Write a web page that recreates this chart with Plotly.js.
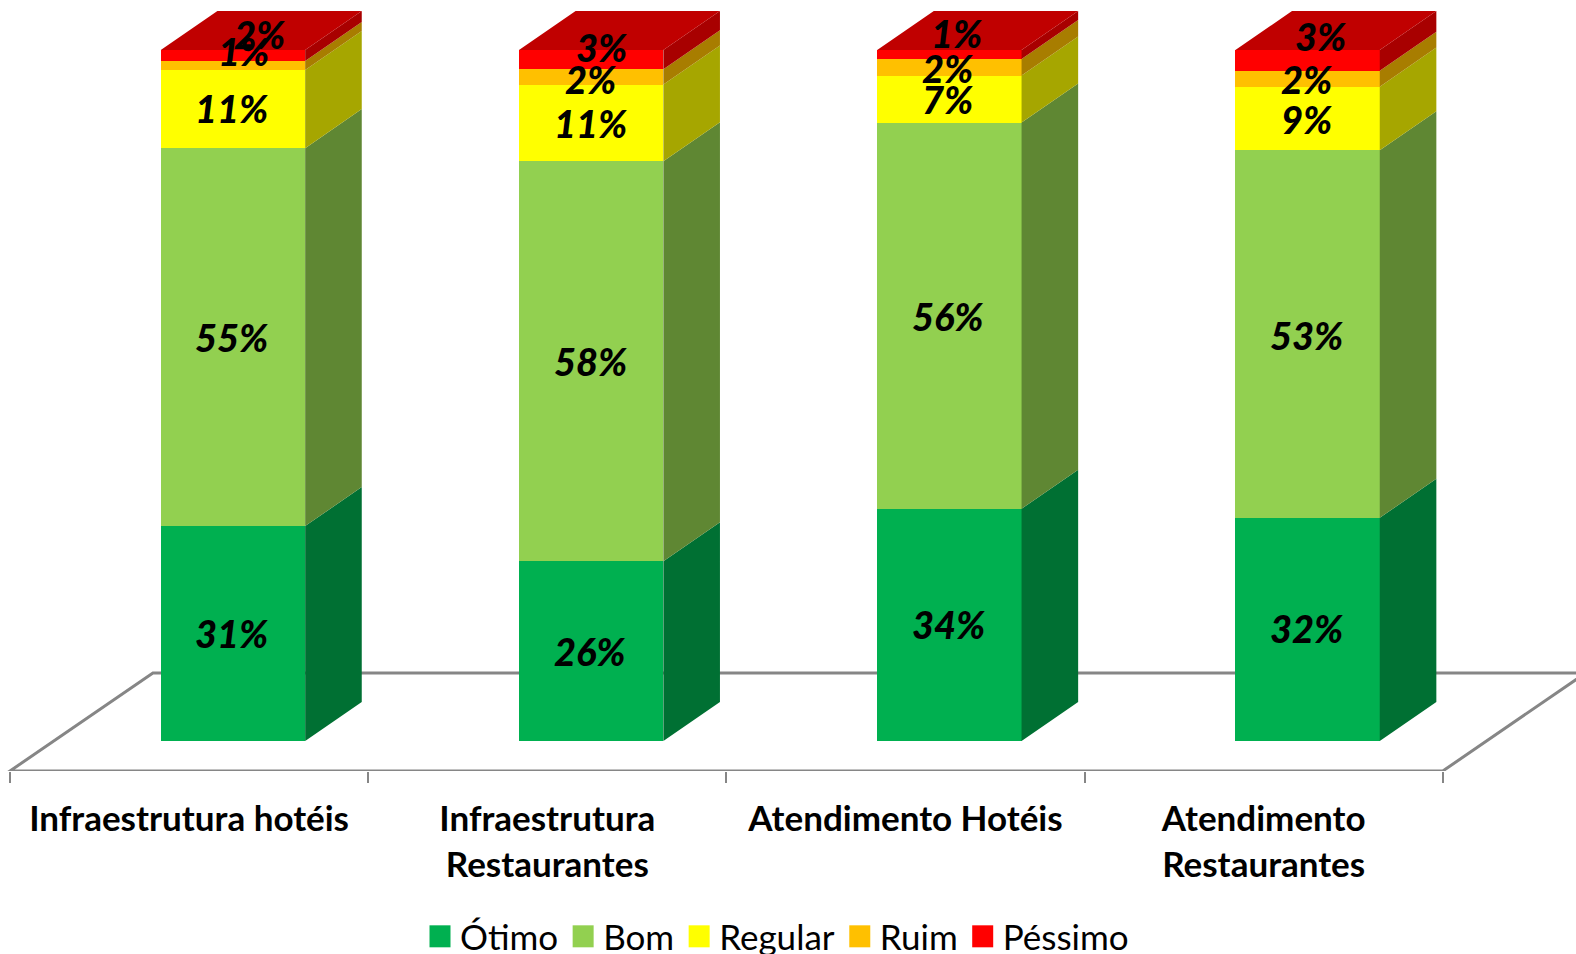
<!DOCTYPE html>
<html><head><meta charset="utf-8">
<script src="https://cdn.plot.ly/plotly-3.0.1.min.js"></script>
<style>html,body{margin:0;padding:0;background:#fff;overflow:hidden}#chart{width:1576px;height:954px}</style>
</head><body><div id="chart"></div>
<script>
const categories = ["Infraestrutura hotéis", "Infraestrutura<br>Restaurantes", "Atendimento Hotéis", "Atendimento<br>Restaurantes"];
const seriesNames = ["Ótimo", "Bom", "Regular", "Ruim", "Péssimo"];
const otimo   = [31.1, 26.0, 33.6, 32.3];
const bom     = [54.7, 57.9, 55.9, 53.2];
const regular = [11.3, 11.1, 6.8, 9.2];
const ruim    = [1.3, 2.2, 2.4, 2.3];
const pessimo = [1.6, 2.8, 1.3, 3.0];
const otimoLabels   = ["31%", "26%", "34%", "32%"];
const bomLabels     = ["55%", "58%", "56%", "53%"];
const regularLabels = ["11%", "11%", "7%", "9%"];
const ruimLabels    = ["1%", "2%", "2%", "2%"];
const pessimoLabels = ["2%", "3%", "1%", "3%"];

const values = [otimo, bom, regular, ruim, pessimo];
const labels = [otimoLabels, bomLabels, regularLabels, ruimLabels, pessimoLabels];
const frontColors = ["#00B050", "#92D050", "#FFFF00", "#FFC000", "#FF0000"];
const sideColors  = ["#007033", "#5F8733", "#A6A600", "#A87D00", "#A80000"];
const topColor = "#C00000";
const axisColor = "#868686";

// geometry of the pseudo-3D extrusion, in axis units
const barCentre = 0.1225, barWidth = 0.403, depthX = 0.158, depthY = 5.65;
const floorX = 0.399, floorY = 14.19, floorBottom = -4.343;
// nudges of the data labels, px, per series then per bar
const shiftX = [[-1,-1,-1,-1],[-1,-1,-1,-1],[-1,-1,-2,-1],[11,-1,-2,-1],[27,10,7,13]];
const shiftY = [[1,0,0.5,1],[0.5,0,0,-0.7],[1,0,0,-0.4],[14.5,-1.6,-0.6,0],[21.5,13,22,24]];

const xs = categories.map((c, i) => i);
const traces = [];
const annotations = [];
const cum = xs.map(() => 0);

values.forEach((vals, s) => {
  traces.push({
    type: "bar", name: seriesNames[s], x: xs, y: vals,
    width: barWidth, offset: barCentre - barWidth / 2,
    marker: {color: frontColors[s], line: {width: 0}},
    hoverinfo: "skip"
  });
  const sx = [], sy = [];
  vals.forEach((v, i) => {
    const right = i + barCentre + barWidth / 2, y0 = cum[i], y1 = cum[i] + v;
    sx.push(right, right + depthX, right + depthX, right, null);
    sy.push(y0, y0 + depthY, y1 + depthY, y1, null);
    annotations.push({
      x: i + barCentre, y: (y0 + y1) / 2, xref: "x", yref: "y",
      text: labels[s][i], showarrow: false,
      xshift: shiftX[s][i], yshift: shiftY[s][i],
      font: {family: "Lato", size: 38, color: "#000", weight: 900, style: "italic"}
    });
    cum[i] = y1;
  });
  traces.push({
    type: "scatter", mode: "none", x: sx, y: sy, fill: "toself",
    fillcolor: sideColors[s], showlegend: false, hoverinfo: "skip"
  });
});

const tx = [], ty = [];
xs.forEach(i => {
  const l = i + barCentre - barWidth / 2, r = l + barWidth;
  tx.push(l, l + depthX, r + depthX, r, null);
  ty.push(cum[i], cum[i] + depthY, cum[i] + depthY, cum[i], null);
});
traces.push({type: "scatter", mode: "none", x: tx, y: ty, fill: "toself",
  fillcolor: topColor, showlegend: false, hoverinfo: "skip"});

const xL = -0.5, xR = 3.5;
const floorPath = `M${xL},${floorBottom}L${xL + floorX},${floorBottom + floorY}L${xR + floorX},${floorBottom + floorY}L${xR},${floorBottom}Z`;

const layout = {
  width: 1576, height: 954,
  margin: {l: 0, r: 0, t: 0, b: 183.3},
  paper_bgcolor: "#fff", plot_bgcolor: "#fff",
  barmode: "stack",
  showlegend: true,
  legend: {
    orientation: "h", xref: "container", yref: "container",
    x: 0.2665, xanchor: "left", y: 0.0492, yanchor: "top",
    font: {family: "Lato", size: 35, color: "#000"}, traceorder: "normal",
    itemclick: false, itemdoubleclick: false
  },
  xaxis: {
    range: [-0.52792, 3.87186], showgrid: false, zeroline: false, showline: false,
    tickmode: "array", tickvals: xs, ticktext: categories, ticks: "",
    tickfont: {family: "Lato", size: 35, color: "#000", weight: 700},
    ticklabelstandoff: 24,
    minor: {tickmode: "array", tickvals: [-0.5, 0.5, 1.5, 2.5, 3.5], ticks: "outside",
            ticklen: 11, tickwidth: 2, tickcolor: axisColor, showgrid: false}
  },
  yaxis: {range: [floorBottom, 107.24], visible: false, fixedrange: true},
  shapes: [{type: "path", path: floorPath, xref: "x", yref: "y", layer: "below",
            line: {color: axisColor, width: 3}, fillcolor: "rgba(0,0,0,0)"}],
  annotations: annotations
};

Plotly.newPlot("chart", traces, layout, {displayModeBar: false}).then(() => {
  document.querySelectorAll("#chart .legend .legendbar path, #chart .legend .legendpoints path")
    .forEach(p => p.setAttribute("d", "M10.5,11H-10.5V-11H10.5Z"));
});
</script></body></html>
